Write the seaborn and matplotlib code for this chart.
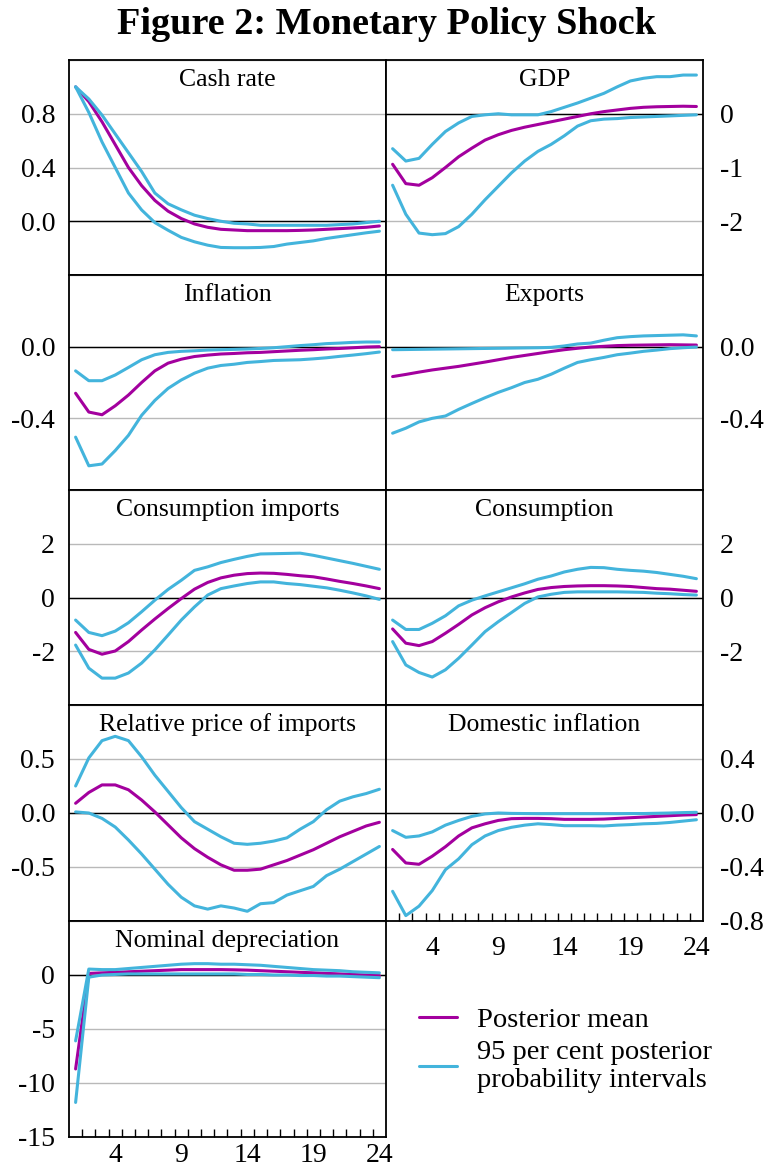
import numpy as np
import pandas as pd
import matplotlib
matplotlib.use("Agg")
import matplotlib.pyplot as plt
import seaborn as sns

sns.set_style("white")
plt.rcParams['font.family'] = ['Liberation Serif', 'DejaVu Serif']
plt.rcParams['axes.unicode_minus'] = False
plt.rcParams['text.color'] = 'black'
plt.rcParams['xtick.color'] = 'black'
plt.rcParams['ytick.color'] = 'black'
plt.rcParams['axes.labelcolor'] = 'black'

periods = list(range(1, 25))

cash_mean = [1.0, 0.89, 0.74, 0.57, 0.40, 0.265, 0.155, 0.075, 0.02, -0.02, -0.045, -0.06, -0.065, -0.07, -0.07,
             -0.07, -0.07, -0.068, -0.065, -0.06, -0.055, -0.05, -0.045, -0.035]
cash_upper = [1.0, 0.91, 0.79, 0.65, 0.51, 0.37, 0.21, 0.13, 0.085, 0.045, 0.02, 0.0, -0.015, -0.02, -0.03,
              -0.03, -0.03, -0.03, -0.03, -0.03, -0.025, -0.02, -0.01, 0.0]
cash_lower = [1.0, 0.81, 0.59, 0.40, 0.21, 0.084, -0.01, -0.067, -0.12, -0.153, -0.178, -0.195, -0.197, -0.197,
              -0.195, -0.188, -0.17, -0.158, -0.146, -0.128, -0.114, -0.1, -0.086, -0.074]

gdp_mean = [-0.94, -1.30, -1.33, -1.19, -1.0, -0.80, -0.64, -0.49, -0.39, -0.31, -0.25, -0.2, -0.15, -0.10, -0.05,
            0.0, 0.04, 0.07, 0.1, 0.12, 0.13, 0.135, 0.14, 0.135]
gdp_upper = [-0.65, -0.88, -0.83, -0.57, -0.33, -0.17, -0.05, -0.02, 0.0, -0.02, -0.02, -0.02, 0.04, 0.12, 0.2,
             0.29, 0.38, 0.5, 0.61, 0.66, 0.69, 0.69, 0.72, 0.72]
gdp_lower = [-1.33, -1.87, -2.22, -2.25, -2.23, -2.1, -1.87, -1.6, -1.35, -1.1, -0.88, -0.7, -0.57, -0.41, -0.23,
             -0.13, -0.1, -0.09, -0.07, -0.06, -0.05, -0.04, -0.03, -0.02]

infl_mean = [-0.26, -0.365, -0.38, -0.33, -0.27, -0.2, -0.135, -0.092, -0.07, -0.055, -0.047, -0.041, -0.038,
             -0.034, -0.032, -0.028, -0.024, -0.02, -0.017, -0.013, -0.01, -0.006, -0.002, 0.0]
infl_upper = [-0.135, -0.19, -0.19, -0.158, -0.116, -0.073, -0.045, -0.032, -0.026, -0.023, -0.019, -0.017,
              -0.015, -0.013, -0.01, -0.006, 0.0, 0.006, 0.011, 0.017, 0.02, 0.024, 0.026, 0.026]
infl_lower = [-0.505, -0.665, -0.655, -0.58, -0.495, -0.383, -0.3, -0.233, -0.186, -0.148, -0.12, -0.105, -0.098,
              -0.088, -0.083, -0.077, -0.075, -0.073, -0.068, -0.062, -0.054, -0.047, -0.039, -0.03]

exp_mean = [-0.167, -0.155, -0.142, -0.13, -0.12, -0.11, -0.098, -0.086, -0.073, -0.06, -0.049, -0.038, -0.027,
            -0.017, -0.009, -0.002, 0.002, 0.006, 0.008, 0.009, 0.01, 0.011, 0.01, 0.009]
exp_upper = [-0.017, -0.016, -0.015, -0.014, -0.013, -0.012, -0.011, -0.01, -0.009, -0.008, -0.007, -0.006,
             -0.004, 0.004, 0.015, 0.02, 0.036, 0.05, 0.056, 0.06, 0.062, 0.064, 0.066, 0.06]
exp_lower = [-0.483, -0.455, -0.42, -0.4, -0.387, -0.35, -0.317, -0.285, -0.255, -0.229, -0.2, -0.182, -0.154,
             -0.12, -0.088, -0.073, -0.06, -0.045, -0.036, -0.026, -0.019, -0.011, -0.006, -0.002]

cimp_mean = [-1.3, -1.93, -2.11, -1.99, -1.64, -1.21, -0.8, -0.41, -0.04, 0.31, 0.56, 0.73, 0.83, 0.89, 0.91,
             0.9, 0.86, 0.81, 0.77, 0.69, 0.6, 0.52, 0.43, 0.33]
cimp_upper = [-0.84, -1.3, -1.42, -1.25, -0.94, -0.53, -0.1, 0.3, 0.64, 1.01, 1.14, 1.3, 1.42, 1.53, 1.62,
              1.63, 1.64, 1.65, 1.57, 1.47, 1.37, 1.27, 1.16, 1.05]
cimp_lower = [-1.77, -2.63, -3.0, -3.0, -2.81, -2.44, -1.95, -1.4, -0.84, -0.35, 0.09, 0.33, 0.43, 0.52, 0.58,
              0.58, 0.52, 0.48, 0.42, 0.36, 0.27, 0.17, 0.06, -0.07]

cons_mean = [-1.17, -1.7, -1.79, -1.64, -1.33, -1.0, -0.65, -0.38, -0.16, 0.02, 0.17, 0.3, 0.37, 0.41, 0.43,
             0.44, 0.44, 0.43, 0.41, 0.37, 0.33, 0.31, 0.27, 0.23]
cons_upper = [-0.84, -1.19, -1.19, -0.96, -0.68, -0.31, -0.1, 0.06, 0.21, 0.36, 0.51, 0.68, 0.8, 0.95, 1.05,
              1.12, 1.11, 1.05, 1.01, 0.98, 0.93, 0.86, 0.79, 0.7]
cons_lower = [-1.64, -2.51, -2.79, -2.96, -2.69, -2.26, -1.77, -1.27, -0.9, -0.56, -0.22, 0.02, 0.12, 0.19, 0.21,
              0.21, 0.21, 0.21, 0.2, 0.19, 0.16, 0.14, 0.11, 0.09]

rpi_mean = [0.09, 0.19, 0.26, 0.26, 0.215, 0.12, 0.01, -0.11, -0.23, -0.33, -0.41, -0.48, -0.53, -0.53, -0.52,
            -0.48, -0.44, -0.39, -0.34, -0.28, -0.22, -0.17, -0.12, -0.086]
rpi_upper = [0.25, 0.51, 0.67, 0.71, 0.67, 0.52, 0.35, 0.2, 0.05, -0.08, -0.15, -0.22, -0.28, -0.29, -0.28,
             -0.26, -0.23, -0.15, -0.08, 0.03, 0.11, 0.15, 0.18, 0.22]
rpi_lower = [0.01, 0.0, -0.05, -0.13, -0.25, -0.38, -0.52, -0.66, -0.78, -0.86, -0.89, -0.86, -0.88, -0.91, -0.84,
             -0.83, -0.76, -0.72, -0.68, -0.58, -0.52, -0.45, -0.38, -0.31]

dinf_mean = [-0.27, -0.37, -0.38, -0.32, -0.25, -0.17, -0.11, -0.08, -0.055, -0.042, -0.04, -0.04, -0.042, -0.047,
             -0.047, -0.047, -0.045, -0.04, -0.035, -0.03, -0.025, -0.02, -0.015, -0.012]
dinf_upper = [-0.13, -0.18, -0.17, -0.14, -0.09, -0.055, -0.025, -0.007, 0.0, -0.003, -0.004, -0.005, -0.005,
              -0.005, -0.005, -0.005, -0.005, -0.005, -0.004, -0.004, -0.002, 0.0, 0.003, 0.005]
dinf_lower = [-0.58, -0.76, -0.69, -0.575, -0.42, -0.34, -0.235, -0.17, -0.13, -0.106, -0.09, -0.08, -0.086,
              -0.094, -0.094, -0.094, -0.096, -0.09, -0.086, -0.08, -0.077, -0.07, -0.06, -0.05]

nd_mean = [-8.7, 0.15, 0.2, 0.25, 0.3, 0.35, 0.4, 0.45, 0.5, 0.5, 0.5, 0.5, 0.48, 0.45, 0.4, 0.35, 0.3, 0.25,
           0.2, 0.15, 0.1, 0.05, 0.0, -0.05]
nd_upper = [-6.1, 0.55, 0.5, 0.5, 0.6, 0.7, 0.8, 0.9, 1.0, 1.05, 1.05, 1.0, 1.0, 0.95, 0.9, 0.8, 0.7, 0.6, 0.5,
            0.45, 0.4, 0.3, 0.25, 0.2]
nd_lower = [-11.8, -0.2, 0.0, 0.05, 0.1, 0.1, 0.1, 0.1, 0.1, 0.1, 0.1, 0.1, 0.1, 0.05, 0.05, 0.0, 0.0, -0.05,
            -0.05, -0.1, -0.1, -0.15, -0.2, -0.25]

titles = ["Cash rate", "GDP", "Inflation", "Exports", "Consumption imports", "Consumption",
          "Relative price of imports", "Domestic inflation", "Nominal depreciation"]
series = [(cash_mean, cash_upper, cash_lower), (gdp_mean, gdp_upper, gdp_lower),
          (infl_mean, infl_upper, infl_lower), (exp_mean, exp_upper, exp_lower),
          (cimp_mean, cimp_upper, cimp_lower), (cons_mean, cons_upper, cons_lower),
          (rpi_mean, rpi_upper, rpi_lower), (dinf_mean, dinf_upper, dinf_lower),
          (nd_mean, nd_upper, nd_lower)]
ylims = [(-0.4, 1.2), (-3, 1), (-0.8, 0.4), (-0.8, 0.4), (-4, 4), (-4, 4), (-1, 1), (-0.8, 0.8), (-15, 5)]
grid_vals = [[-0.4, 0.0, 0.4, 0.8, 1.2], [-3, -2, -1, 0, 1], [-0.8, -0.4, 0.0, 0.4], [-0.8, -0.4, 0.0, 0.4],
             [-4, -2, 0, 2, 4], [-4, -2, 0, 2, 4], [-1, -0.5, 0, 0.5, 1], [-0.8, -0.4, 0, 0.4, 0.8],
             [-15, -10, -5, 0, 5]]
ytick_vals = [[0.0, 0.4, 0.8], [-2, -1, 0], [-0.4, 0.0], [-0.4, 0.0], [-2, 0, 2], [-2, 0, 2],
              [-0.5, 0.0, 0.5], [-0.8, -0.4, 0.0, 0.4], [-15, -10, -5, 0]]
ytick_labels = [["0.0", "0.4", "0.8"], ["-2", "-1", "0"], ["-0.4", "0.0"], ["-0.4", "0.0"], ["-2", "0", "2"],
                ["-2", "0", "2"], ["-0.5", "0.0", "0.5"], ["-0.8", "-0.4", "0.0", "0.4"],
                ["-15", "-10", "-5", "0"]]
xtick_vals = [4, 9, 14, 19, 24]
xtick_labels = ["4", "9", "14", "19", "24"]

MEAN_C = "#A3009E"
BAND_C = "#43B4DC"

W, H = 764, 1171
fig = plt.figure(figsize=(W / 100, H / 100), dpi=100)

col_x = [69, 386]
col_w = 317
row_y = [(60, 275), (275, 490), (490, 705), (705, 921), (921, 1137)]

fig.text(386.5 / W, 1 - 24 / H, "Figure 2: Monetary Policy Shock", ha="center", va="center",
         fontsize=27.5, fontweight="bold", color="black")

handles = None
for i, title in enumerate(titles):
    r, c = divmod(i, 2)
    y0, y1 = row_y[r]
    ax = fig.add_axes([col_x[c] / W, 1 - y1 / H, col_w / W, (y1 - y0) / H])
    mean, up, lo = series[i]
    df = pd.DataFrame({"period": periods, "mean": mean, "upper": up, "lower": lo})
    for g in grid_vals[i]:
        ax.axhline(g, color="#b9b9b9", lw=1.0, zorder=0)
    ax.axhline(0, color="black", lw=1.0, zorder=1)
    sns.lineplot(data=df, x="period", y="mean", ax=ax, color=MEAN_C, lw=2.2, label="Posterior mean",
                 legend=False, zorder=3)
    sns.lineplot(data=df, x="period", y="upper", ax=ax, color=BAND_C, lw=2.2,
                 label="95 per cent posterior\nprobability intervals", legend=False, zorder=4)
    sns.lineplot(data=df, x="period", y="lower", ax=ax, color=BAND_C, lw=2.2, legend=False, zorder=4)
    if handles is None:
        handles = ax.get_lines()[-3:-1]
    ax.set_xlim(0.5, 24.5)
    ax.set_ylim(*ylims[i])
    ax.set_xlabel("")
    ax.set_ylabel("")
    ax.set_title(title, fontsize=18.5, y=1.0, pad=-19, color="black")
    for sp in ax.spines.values():
        sp.set_visible(True)
        sp.set_color("black")
        sp.set_linewidth(1.3)
    ax.set_yticks(ytick_vals[i])
    ax.set_yticklabels(ytick_labels[i])
    ax.tick_params(axis="y", length=0, labelsize=20, pad=10, labelcolor="black")
    if c == 1:
        ax.yaxis.tick_right()
        ax.tick_params(axis="y", length=0, labelsize=20, pad=12, labelcolor="black")
    bottom = (i == 8) or (i == 7)
    if bottom:
        ax.set_xticks(xtick_vals)
        ax.set_xticklabels(xtick_labels)
        ax.set_xticks([k + 0.5 for k in range(1, 24)], minor=True)
        pad = 4 if i == 8 else 11
        ax.tick_params(axis="x", which="major", length=0, labelsize=20, pad=pad, labelcolor="black")
        ax.tick_params(axis="x", which="minor", direction="in", length=6, width=1.0, color="black",
                       bottom=True)
    else:
        ax.set_xticks([])

fig.legend(handles=handles, labels=["Posterior mean", "95 per cent posterior\nprobability intervals"],
           loc="upper left", bbox_to_anchor=(393 / W, 1 - 981 / H), frameon=False, fontsize=20.5,
           handlelength=1.35, handletextpad=0.7, labelspacing=0.25, labelcolor="black")

fig.savefig("out.png", dpi=100, facecolor="white")
